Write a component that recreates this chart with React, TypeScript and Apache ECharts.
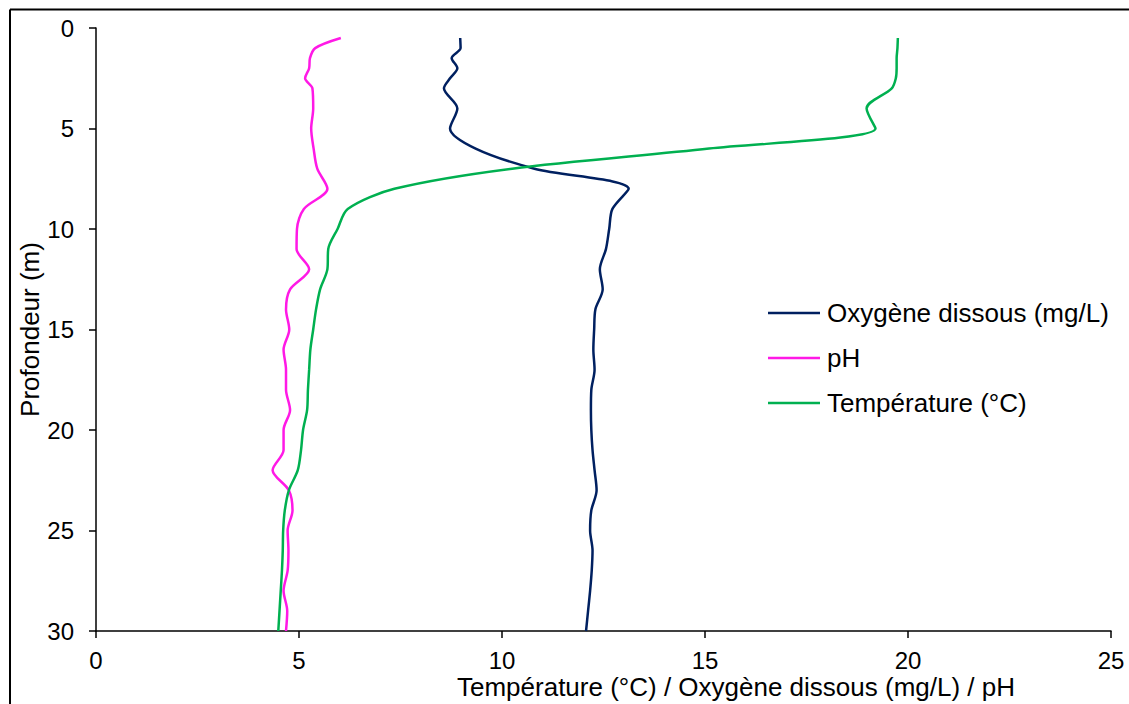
import React, { useEffect, useRef } from "react";
import * as echarts from "echarts";

const depths = [0.5, 1, 1.5, 2, 2.5, 3, 4, 5, 6, 7, 8, 9, 10, 11, 12, 13, 14, 15, 16, 17, 18, 19, 20, 21, 22, 23, 24, 25, 26, 27, 28, 29, 30];

const oxygen = [8.97, 8.98, 8.76, 8.9, 8.72, 8.57, 8.9, 8.72, 9.35, 10.8, 13.12, 12.72, 12.64, 12.56, 12.41, 12.48, 12.3, 12.27, 12.25, 12.28, 12.2, 12.19, 12.2, 12.23, 12.28, 12.33, 12.2, 12.17, 12.23, 12.21, 12.17, 12.12, 12.07];

const ph = [6.03, 5.4, 5.27, 5.25, 5.15, 5.33, 5.35, 5.3, 5.36, 5.45, 5.7, 5.12, 4.95, 4.94, 5.25, 4.78, 4.68, 4.76, 4.62, 4.68, 4.68, 4.78, 4.62, 4.62, 4.35, 4.75, 4.84, 4.72, 4.74, 4.72, 4.62, 4.71, 4.68];

const temperature = [19.75, 19.74, 19.72, 19.72, 19.7, 19.6, 18.98, 19.2, 15.1, 10.25, 7.35, 6.2, 5.95, 5.72, 5.7, 5.52, 5.42, 5.35, 5.28, 5.25, 5.22, 5.2, 5.1, 5.05, 4.97, 4.75, 4.65, 4.61, 4.6, 4.58, 4.55, 4.52, 4.49];

const seriesNames = ["Oxygène dissous (mg/L)", "pH", "Température (°C)"];
const seriesColors = ["#002060", "#FF19E6", "#00B050"];
const seriesValues = [oxygen, ph, temperature];

const xTitle = "Température (°C) / Oxygène dissous (mg/L) / pH";
const yTitle = "Profondeur (m)";

const FONT = "'Liberation Sans', Arial, sans-serif";

export default function App() {
  const ref = useRef<HTMLDivElement>(null);

  useEffect(() => {
    if (!ref.current) return;
    const chart = echarts.init(ref.current, undefined, { renderer: "svg" });
    chart.setOption({
      animation: false,
      backgroundColor: "#ffffff",
      textStyle: { fontFamily: FONT },
      grid: { left: 96, right: 18, top: 28, bottom: 73, containLabel: false },
      xAxis: {
        type: "value",
        min: 0,
        max: 25,
        interval: 5,
        axisLine: { show: true, onZero: false, lineStyle: { color: "#000", width: 1.5 } },
        axisTick: { show: true, length: 7, lineStyle: { color: "#000", width: 1.5 } },
        axisLabel: { color: "#000", fontSize: 24, fontFamily: FONT, margin: 19, lineHeight: 20 },
        splitLine: { show: false },
      },
      yAxis: {
        type: "value",
        inverse: true,
        min: 0,
        max: 30,
        interval: 5,
        axisLine: { show: true, onZero: false, lineStyle: { color: "#000", width: 1.5 } },
        axisTick: { show: true, length: 7, lineStyle: { color: "#000", width: 1.5 } },
        axisLabel: { color: "#000", fontSize: 24, fontFamily: FONT, margin: 22 },
        splitLine: { show: false },
      },
      legend: {
        orient: "vertical",
        left: 763,
        top: 294,
        itemWidth: 52,
        itemHeight: 14,
        itemGap: 17,
        data: seriesNames.map((n, i) => ({
          name: n,
          icon: "path://M0,0 L52,0 L52,2.5 L0,2.5 Z",
          itemStyle: { color: seriesColors[i] },
        })),
        textStyle: { color: "#000", fontSize: 26, fontFamily: FONT, lineHeight: 28, padding: [0, 0, 0, 2] },
      },
      graphic: [
        { type: "line", shape: { x1: 10, y1: 9.5, x2: 1129, y2: 9.5 }, style: { stroke: "#000", lineWidth: 2 } },
        { type: "line", shape: { x1: 10, y1: 9.5, x2: 10, y2: 704 }, style: { stroke: "#000", lineWidth: 2 } },
        {
          type: "text",
          x: 736,
          y: 687,
          style: { text: xTitle, fill: "#000", font: `26px ${FONT}`, align: "center", verticalAlign: "middle", lineHeight: 20 },
        },
        {
          type: "text",
          x: 29.5,
          y: 329.5,
          rotation: Math.PI / 2,
          style: { text: yTitle, fill: "#000", font: `26px ${FONT}`, align: "center", verticalAlign: "middle" },
        },
      ],
      series: seriesNames.map((name, i) => ({
        name,
        type: "line",
        smooth: 0.3,
        symbol: "none",
        clip: false,
        lineStyle: { color: seriesColors[i], width: 2.5 },
        itemStyle: { color: seriesColors[i] },
        data: depths.map((d, k) => [seriesValues[i][k], d]),
      })),
    });
    return () => chart.dispose();
  }, []);

  return (
    <div
      ref={ref}
      style={{ position: "fixed", left: 0, top: 0, width: 1129, height: 704, background: "#fff" }}
    />
  );
}
